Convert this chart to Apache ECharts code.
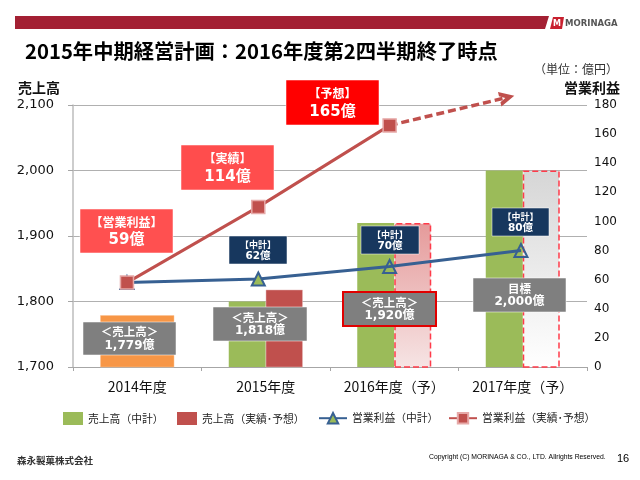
<!DOCTYPE html>
<html>
<head>
<meta charset="utf-8">
<script src="https://cdn.jsdelivr.net/npm/echarts@6/dist/echarts.min.js"></script>
<style>
html,body{margin:0;padding:0;background:#fff;}
#main{width:640px;height:480px;}
</style>
</head>
<body>
<div id="main"></div>
<script>
var categories = ['2014年度', '2015年度', '2016年度（予）', '2017年度（予）'];
var sales2014 = [1779, null, null, null];
var salesPlan = [null, 1800, 1920, 2000];
var salesActual = [null, 1818, 1920, 2000];
// 折れ線は元の図でカテゴリ中心から少し左に手置きされているので、描かれた位置を読んだ値
var lineX = [0, 1, 2, 3];
var profitPlan = [58, 60.5, 69, 80];
var profitActual = [58, 110, 166, null];

var fontName = '"Noto Sans CJK JP", sans-serif';
var boxFont = '"DejaVu Sans", "Noto Sans CJK JP", sans-serif';

var myChart = echarts.init(document.getElementById('main'), null, {renderer: 'canvas'});

// 注釈の箱
var box = function(x, y, w, h, fill, l1, s1, l2, s2, stroke){
  return [
    {type: 'rect', shape: {x: x, y: y, width: w, height: h}, z: 100,
      style: {fill: fill, stroke: stroke || 'rgba(255,255,255,0.5)', lineWidth: stroke ? 2 : 1}},
    {type: 'text', x: x + w / 2, y: y + h * 0.30, z: 101,
      style: {text: l1, fill: '#fff', font: 'bold ' + s1 + 'px ' + fontName, align: 'center', verticalAlign: 'middle'}},
    {type: 'text', x: x + w / 2, y: y + h * 0.71, z: 101,
      style: {text: l2, fill: '#fff', font: 'bold ' + s2 + 'px ' + boxFont, align: 'center', verticalAlign: 'middle'}}
  ];
};

var txt = function(x, y, s, font, fill, align){
  return {type: 'text', x: x, y: y, z: 101,
    style: {text: s, font: font, fill: fill || '#000', align: align || 'left', verticalAlign: 'middle'}};
};

var gradient = function(c1, c2){
  return new echarts.graphic.LinearGradient(0, 0, 0, 1, [{offset: 0, color: c1}, {offset: 1, color: c2}]);
};

var actualData = salesActual.map(function(v, i){
  if (i == 2) {
    return {value: v, itemStyle: {color: gradient('#e59a9a', '#f6e4e4'), borderColor: '#ff3b4a', borderWidth: 1.5, borderType: 'dashed'}};
  }
  if (i == 3) {
    return {value: v, itemStyle: {color: gradient('#d6d6d6', '#ffffff'), borderColor: '#ff3b4a', borderWidth: 1.5, borderType: 'dashed'}};
  }
  return v;
});

var planLineData = profitPlan.map(function(v, i){
  if (i >= 2) {
    return {value: [lineX[i], v], itemStyle: {color: 'rgba(255,255,255,0)'}};
  }
  return [lineX[i], v];
});

var actualLineData = profitActual.map(function(v, i){
  return [lineX[i], v];
});

var elements = [
  {type: 'polygon', shape: {points: [[15, 16], [549, 16], [545, 29], [15, 29]]}, style: {fill: '#a32033'}},
  {type: 'polygon', shape: {points: [[553, 17], [564, 17], [562, 29], [550, 29]]}, style: {fill: '#c8202f'}},
  txt(557, 23.5, 'M', 'bold 8px "DejaVu Sans"', '#fff', 'center'),
  txt(565, 24, 'MORINAGA', 'bold 8.5px "DejaVu Sans"', '#555'),
  txt(25, 51, '2015年中期経営計画：2016年度第2四半期終了時点', 'bold 20.3px ' + fontName, '#000'),
  txt(618, 69, '（単位：億円）', '12px ' + fontName, '#333', 'right'),
  txt(18, 88, '売上高', 'bold 14px ' + fontName, '#111'),
  txt(620, 88, '営業利益', 'bold 14px ' + fontName, '#111', 'right'),
  txt(17, 460, '森永製菓株式会社', 'bold 9.5px ' + fontName, '#333'),
  txt(429, 457, 'Copyright (C) MORINAGA & CO., LTD. Allrights Reserved.', '6.8px "Liberation Sans"', '#000'),
  txt(617, 459, '16', '11px "Liberation Sans"', '#000')
];
elements = elements
  .concat(box(286, 80, 93, 45, '#ff0000', '【予想】', 12, '165億', 15))
  .concat(box(181, 145, 93, 45, '#ff4d4d', '【実績】', 12, '114億', 15))
  .concat(box(80, 209, 93, 44, '#ff5050', '【営業利益】', 12, '59億', 15))
  .concat(box(229, 236, 58, 28, '#17375e', '【中計】', 9, '62億', 10.5))
  .concat(box(361, 226, 58, 28, '#17375e', '【中計】', 9, '70億', 10.5))
  .concat(box(492, 208, 57, 28, '#17375e', '【中計】', 9, '80億', 10.5))
  .concat(box(83, 322, 93, 33, '#7f7f7f', '＜売上高＞', 11.5, '1,779億', 12))
  .concat(box(213, 307, 94, 34, '#7f7f7f', '＜売上高＞', 11.5, '1,818億', 12))
  .concat(box(343, 292, 93, 34, '#7f7f7f', '＜売上高＞', 11.5, '1,920億', 12, '#e00000'))
  .concat(box(473, 278, 93, 34, '#7f7f7f', '目標', 11.5, '2,000億', 12));

var legendText = {fontSize: 10.8, color: '#222'};

var option = {
  animation: false,
  backgroundColor: '#fff',
  textStyle: {fontFamily: fontName},
  grid: {left: 73, right: 53, top: 105, height: 262, containLabel: false},
  legend: [
    {left: 63, top: 412, padding: 0, itemWidth: 20, itemHeight: 13, itemGap: 0, textStyle: legendText,
      data: [{name: '売上高（中計）', icon: 'rect'}]},
    {left: 177, top: 412, padding: 0, itemWidth: 20, itemHeight: 13, itemGap: 0, textStyle: legendText,
      data: [{name: '売上高（実績･予想）', icon: 'rect', itemStyle: {borderWidth: 0}}]},
    {left: 318, top: 412, padding: 0, itemWidth: 28, itemHeight: 13, itemGap: 0, textStyle: legendText,
      data: ['営業利益（中計）']},
    {left: 448, top: 412, padding: 0, itemWidth: 28, itemHeight: 13, itemGap: 0, textStyle: legendText,
      data: ['営業利益（実績･予想）']}
  ],
  xAxis: [
    {type: 'category', data: categories, position: 'bottom',
      axisLine: {lineStyle: {color: '#a6a6a6'}},
      axisTick: {show: true, alignWithLabel: false, length: 4, lineStyle: {color: '#a6a6a6'}},
      axisLabel: {fontSize: 14, color: '#111', margin: 13, interval: 0}},
    {type: 'category', data: categories, show: false},
    {type: 'value', min: -0.411, max: 3.503, show: false}
  ],
  yAxis: [
    {type: 'value', min: 1700, max: 2100, interval: 100,
      axisLine: {show: true, onZero: false, lineStyle: {color: '#bdbdbd', width: 1.5}},
      axisTick: {show: true, length: 5, lineStyle: {color: '#a6a6a6'}},
      splitLine: {lineStyle: {color: '#b0b0b0', width: 1}},
      axisLabel: {fontSize: 13, fontFamily: 'DejaVu Sans', color: '#111', margin: 19,
        formatter: function(v){ return v.toLocaleString('en-US'); }}},
    {type: 'value', min: 0, max: 180, interval: 20, position: 'right',
      axisLine: {show: false, onZero: false},
      axisTick: {show: false},
      splitLine: {show: false},
      axisLabel: {fontSize: 12, fontFamily: 'DejaVu Sans', color: '#111', margin: 7}}
  ],
  series: [
    {name: '売上高（2014）', type: 'bar', xAxisIndex: 1, yAxisIndex: 0, barWidth: 74, data: sales2014,
      itemStyle: {color: '#f79646', borderColor: '#fac090', borderWidth: 0.5}, z: 2},
    {name: '売上高（中計）', type: 'bar', yAxisIndex: 0, barWidth: 37, barGap: 0, data: salesPlan,
      itemStyle: {color: '#9bbb59'}, z: 2},
    {name: '売上高（実績･予想）', type: 'bar', yAxisIndex: 0, barWidth: 37, barGap: 0, data: actualData,
      itemStyle: {color: '#c0504d', borderColor: '#e6b9b8', borderWidth: 0.5}, z: 3},
    {name: '営業利益（中計）', type: 'line', xAxisIndex: 2, yAxisIndex: 1, data: planLineData, z: 5,
      symbol: 'triangle', symbolSize: 13,
      lineStyle: {color: '#376092', width: 3},
      itemStyle: {color: '#9bbb59', borderColor: '#376092', borderWidth: 2}},
    {name: '営業利益（実績･予想）', type: 'line', xAxisIndex: 2, yAxisIndex: 1, data: actualLineData, z: 6,
      symbol: 'rect', symbolSize: 13,
      lineStyle: {color: '#c0504d', width: 3},
      itemStyle: {color: '#c0504d', borderColor: '#e6a9a8', borderWidth: 1.5},
      markLine: {
        silent: true, animation: false,
        symbol: ['none', 'path://M10,0 L22,13 L15,13 L10,8 L5,13 L-2,13 Z'], symbolSize: 15,
        label: {show: false},
        lineStyle: {color: '#c0504d', width: 3.5, type: [8, 4]},
        data: [[{xAxis: lineX[2], yAxis: profitActual[2]}, {x: 507, y: 97.5}]]
      }}
  ],
  graphic: {elements: elements}
};
myChart.setOption(option);
</script>
</body>
</html>
